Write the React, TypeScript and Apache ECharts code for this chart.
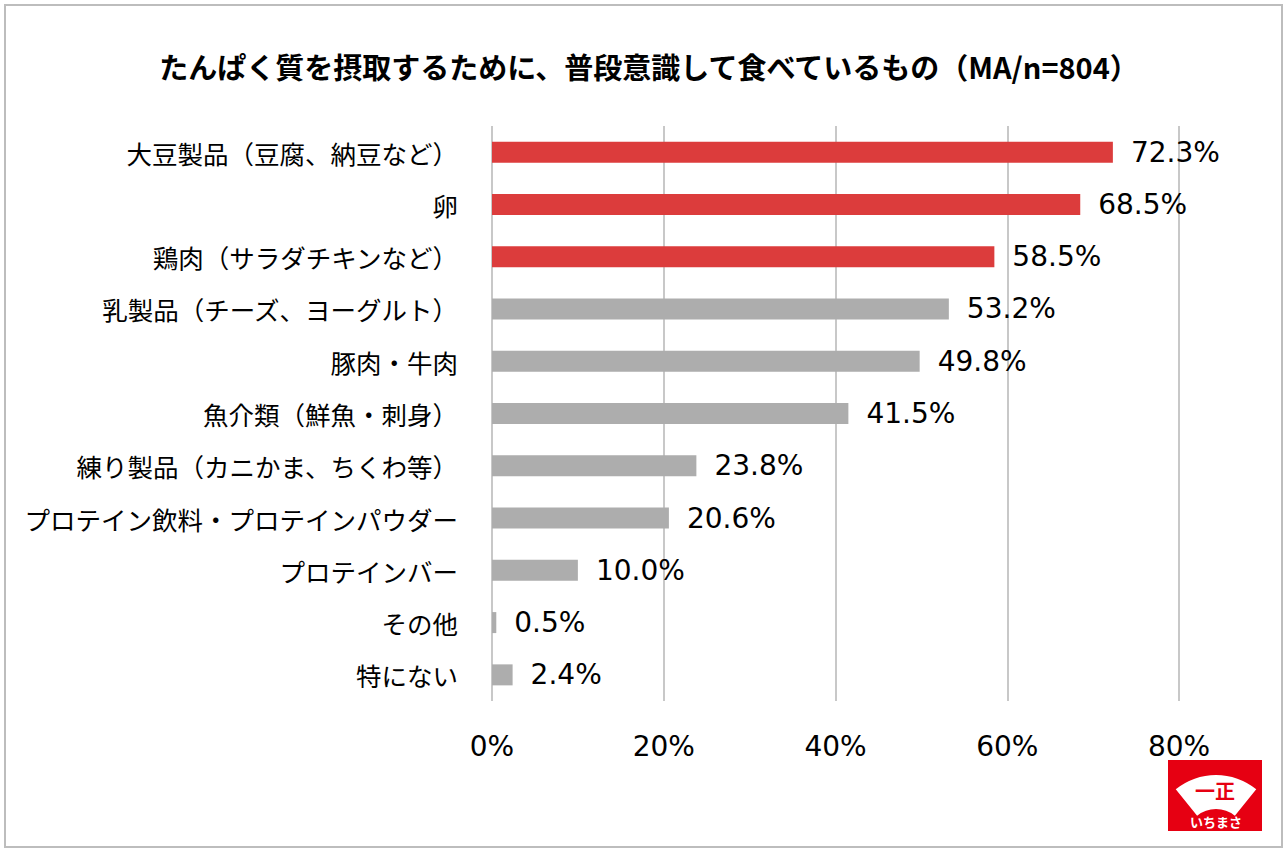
import React, { useEffect, useRef } from "react";
import * as echarts from "echarts";

const titleText = "たんぱく質を摂取するために、普段意識して食べているもの（MA/n=804）";
const categories = [
  "大豆製品（豆腐、納豆など）",
  "卵",
  "鶏肉（サラダチキンなど）",
  "乳製品（チーズ、ヨーグルト）",
  "豚肉・牛肉",
  "魚介類（鮮魚・刺身）",
  "練り製品（カニかま、ちくわ等）",
  "プロテイン飲料・プロテインパウダー",
  "プロテインバー",
  "その他",
  "特にない",
];
const values = [72.3, 68.5, 58.5, 53.2, 49.8, 41.5, 23.8, 20.6, 10.0, 0.5, 2.4];
const highlighted = [true, true, true, false, false, false, false, false, false, false, false];
const axisTicks = [0, 20, 40, 60, 80];

const RED = "#DC3C3C";
const GRAY = "#ADADAD";
const CJK = "'Noto Sans CJK JP', 'Noto Sans', sans-serif";
const NUM = "'DejaVu Sans', Verdana, sans-serif";

export default function App() {
  const ref = useRef<HTMLDivElement>(null);
  useEffect(() => {
    document.body.style.margin = "0";
    if (!ref.current) return;
    const chart = echarts.init(ref.current, null, { renderer: "svg" });
    const sectorHalf = 0.68;
    chart.setOption({
      animation: false,
      backgroundColor: "#ffffff",
      title: {
        text: titleText,
        left: 644,
        textAlign: "center",
        top: 46,
        textStyle: { fontFamily: CJK, fontSize: 29, fontWeight: "bold", color: "#000" },
      },
      grid: { left: 492, right: 108, top: 126, bottom: 152, containLabel: false },
      xAxis: {
        type: "value",
        min: axisTicks[0],
        max: axisTicks[axisTicks.length - 1],
        interval: axisTicks[1] - axisTicks[0],
        axisLine: { show: false },
        axisTick: { show: false },
        splitLine: { show: true, lineStyle: { color: "#C8C8C8", width: 2 } },
        axisLabel: {
          formatter: "{value}%",
          fontFamily: NUM,
          fontSize: 28,
          color: "#000",
          margin: 31,
        },
      },
      yAxis: {
        type: "category",
        data: categories,
        inverse: true,
        axisLine: { show: false },
        axisTick: { show: false },
        axisLabel: { fontFamily: CJK, fontSize: 25.5, color: "#000", margin: 34 },
      },
      series: [
        {
          type: "bar",
          barWidth: 21,
          data: values.map((v, i) => ({
            value: v,
            itemStyle: { color: highlighted[i] ? RED : GRAY },
          })),
          label: {
            show: true,
            position: "right",
            distance: 18,
            fontFamily: NUM,
            fontSize: 28,
            color: "#000",
            formatter: (p: any) => p.value.toFixed(1) + "%",
          },
        },
      ],
      graphic: [
        {
          type: "rect",
          shape: { x: 5, y: 5, width: 1277, height: 842 },
          style: { fill: "none", stroke: "#BDBDBD", lineWidth: 2 },
          silent: true,
        },
        {
          type: "rect",
          shape: { x: 1168, y: 760, width: 94, height: 71 },
          style: { fill: "#E60012" },
        },
        {
          type: "sector",
          shape: {
            cx: 1216,
            cy: 839,
            r: 64,
            r0: 30,
            startAngle: -Math.PI / 2 - sectorHalf,
            endAngle: -Math.PI / 2 + sectorHalf,
            clockwise: true,
          },
          style: { fill: "#ffffff" },
        },
        {
          type: "text",
          x: 1215,
          y: 790,
          style: {
            text: "一正",
            fill: "#E60012",
            font: `bold 20px ${CJK}`,
            align: "center",
            verticalAlign: "middle",
          },
        },
        {
          type: "text",
          x: 1216,
          y: 821,
          style: {
            text: "いちまさ",
            fill: "#ffffff",
            font: `bold 13px ${CJK}`,
            align: "center",
            verticalAlign: "middle",
          },
        },
      ],
    });
    return () => chart.dispose();
  }, []);
  return <div ref={ref} style={{ width: 1287, height: 853 }} />;
}
